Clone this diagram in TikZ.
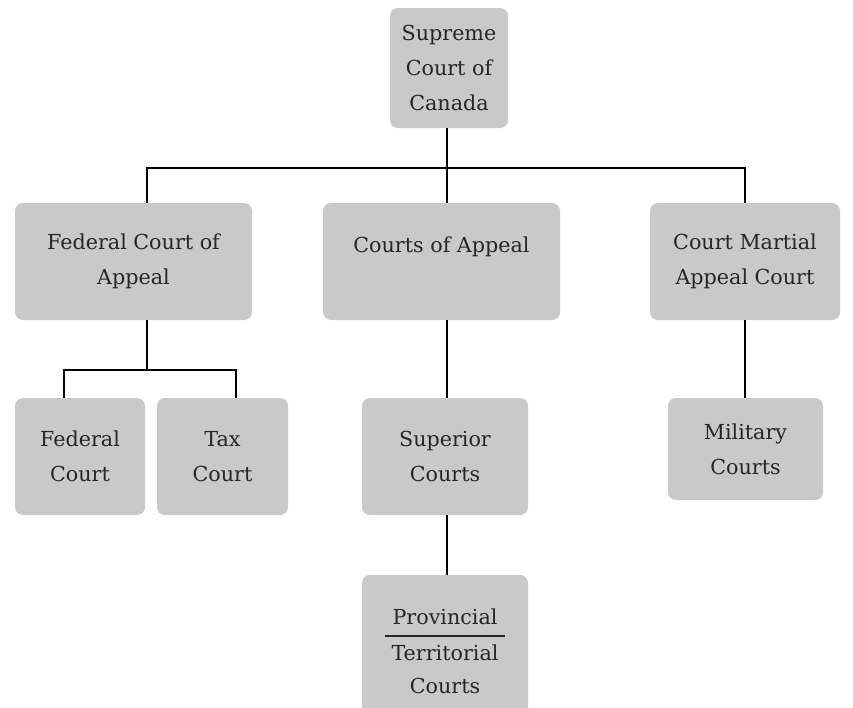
\documentclass[tikz,border=0pt]{standalone}
\usepackage{fontspec}
\setmainfont{DejaVu Serif}
\usetikzlibrary{positioning}
\definecolor{boxgray}{HTML}{C9C9C9}
\definecolor{inkgray}{HTML}{262626}
\setlength{\arrayrulewidth}{1.1pt}

\begin{document}
\begin{tikzpicture}[x=0.75pt,y=-0.75pt,
    courtbox/.style = {fill=boxgray, rounded corners=6pt, text=inkgray, align=center,
                       inner sep=0pt, font=\fontsize{15.5}{26}\selectfont},
    link/.style = {draw=black, line width=1.4pt}]
     \useasboundingbox (0,0) rectangle (853,707);
     % top of the tree
     \node[courtbox, minimum width=88.5pt, minimum height=90pt] (supreme) at (449,68) {Supreme\\Court of\\Canada};
     % appeal level
     \node[courtbox, minimum width=177.75pt, minimum height=87.75pt] (fca) at (133.5,261.5) {Federal Court of\\Appeal};
     \node[courtbox, minimum width=177.75pt, minimum height=87.75pt] (appeal) at (441.5,261.5) {Courts of Appeal\\\mbox{}};
     \node[courtbox, minimum width=142.5pt, minimum height=87.75pt] (cmac) at (745,261.5) {Court Martial\\Appeal Court};
     % trial level
     \node[courtbox, minimum width=97.5pt, minimum height=87.75pt] (federal) at (80,456.5) {Federal\\Court};
     \node[courtbox, minimum width=98.25pt, minimum height=87.75pt] (tax) at (222.5,456.5) {Tax\\Court};
     \node[courtbox, minimum width=124.5pt, minimum height=87.75pt] (superior) at (445,456.5) {Superior\\Courts};
     \node[courtbox, minimum width=116.25pt, minimum height=76.5pt] (military) at (745.5,449) {Military\\Courts};
     \node[courtbox, minimum width=124.5pt, minimum height=108pt] (provincial) at (445,647)
          {\begin{tabular}{@{\hspace{5pt}}c@{\hspace{5pt}}}Provincial\\\hline Territorial\end{tabular}\\[4pt]Courts};

     % connectors
     \coordinate (colL) at (147,0);
     \coordinate (colM) at (447,0);
     \coordinate (bus) at (447,168);
     \coordinate (fbus) at (147,370);
     \draw[link] (supreme.south -| colM) -- (appeal.north -| colM);
     \draw[link] (fca.north -| colL) |- (bus) -| (cmac.north);
     \draw[link] (fca.south -| colL) -- (fbus);
     \draw[link] ([xshift=-12pt]federal.north) |- (fbus) -| ([xshift=10pt]tax.north);
     \draw[link] (appeal.south -| colM) -- (superior.north -| colM);
     \draw[link] (superior.south -| colM) -- (provincial.north -| colM);
     \draw[link] (cmac.south) -- (military.north -| cmac.south);
\end{tikzpicture}
\end{document}
